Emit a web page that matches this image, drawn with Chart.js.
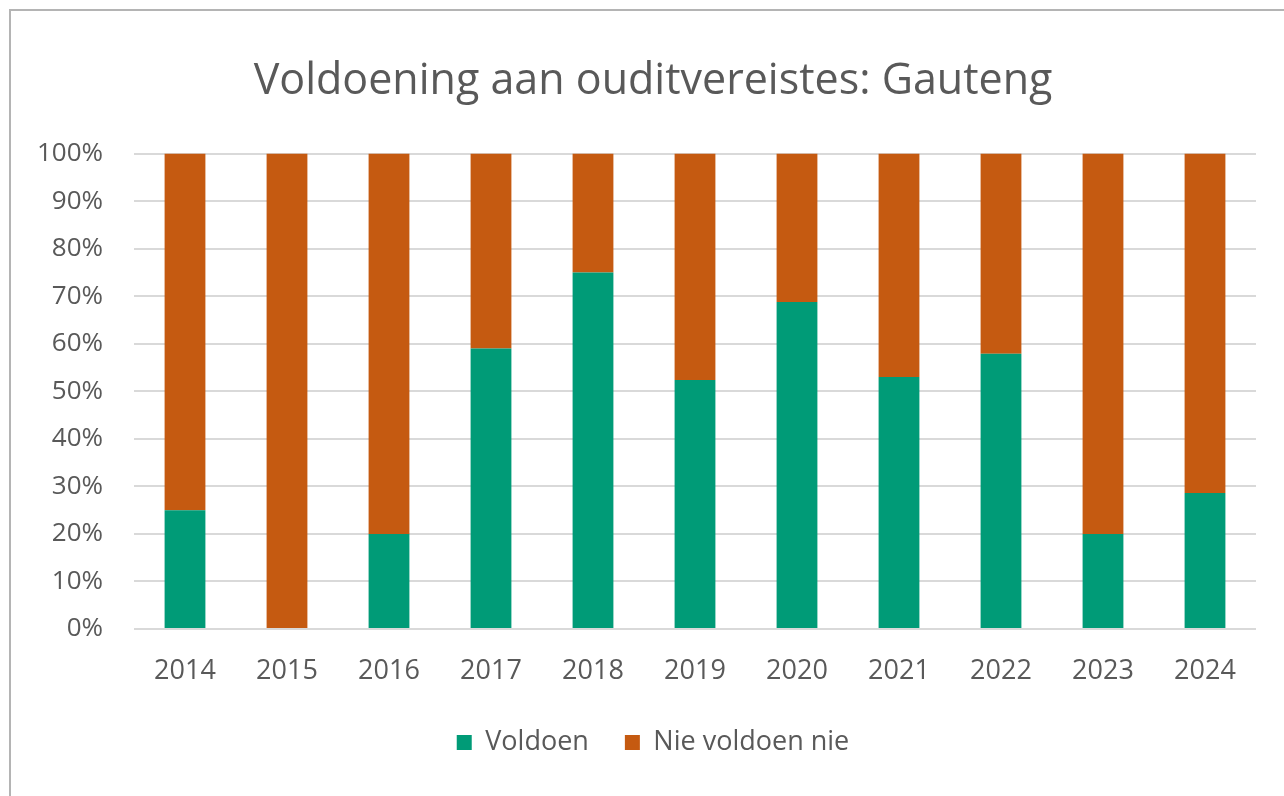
<!DOCTYPE html>
<html>
<head>
<meta charset="utf-8">
<script src="https://cdn.jsdelivr.net/npm/chart.js@4.4.1/dist/chart.umd.min.js"></script>
<style>
  html, body { margin: 0; padding: 0; background: #ffffff; }
  #wrap { position: relative; width: 1284px; height: 796px; overflow: hidden; }
  #frame { position: absolute; left: 9px; top: 9px; width: 1400px; height: 900px;
           border-left: 2px solid #b4b4b4; border-top: 2px solid #b4b4b4; box-sizing: border-box; }
  canvas { position: absolute; left: 0; top: 0; }
</style>
</head>
<body>
<div id="wrap">
  <div id="frame"></div>
  <canvas id="c" width="1284" height="796"></canvas>
</div>
<script>
const years = ["2014","2015","2016","2017","2018","2019","2020","2021","2022","2023","2024"];
const voldoen = [25, 0, 20, 59, 75, 52.4, 68.8, 53, 57.9, 20, 28.6];
const nieVoldoen = [75, 100, 80, 41, 25, 47.6, 31.2, 47, 42.1, 80, 71.4];
const yTicks = [0, 10, 20, 30, 40, 50, 60, 70, 80, 90, 100];

const FONT = "'Open Sans', 'Noto Sans', sans-serif";
const TXT = '#595959';

new Chart(document.getElementById('c'), {
  type: 'bar',
  data: {
    labels: years,
    datasets: [
      { label: 'Voldoen', data: voldoen, backgroundColor: '#009B77', borderWidth: 0 },
      { label: 'Nie voldoen nie', data: nieVoldoen, backgroundColor: '#C55A11', borderWidth: 0 }
    ]
  },
  options: {
    responsive: false,
    animation: false,
    devicePixelRatio: 1,
    layout: { padding: { left: 22, right: 0, top: 0, bottom: 30 } },
    datasets: { bar: { categoryPercentage: 1.0, barPercentage: 0.4 } },
    plugins: {
      title: {
        display: true,
        text: 'Voldoening aan ouditvereistes: Gauteng',
        color: TXT,
        font: { family: FONT, size: 43, weight: 'normal' },
        padding: { top: 56, bottom: 46 }
      },
      legend: {
        position: 'bottom',
        labels: {
          color: TXT,
          font: { family: FONT, size: 27 },
          boxWidth: 15, boxHeight: 15,
          padding: 36
        }
      },
      tooltip: { enabled: false }
    },
    scales: {
      x: {
        stacked: true,
        afterFit: (s) => { s.height = 64; },
        grid: { display: false, drawTicks: false },
        border: { display: false },
        ticks: { color: TXT, font: { family: FONT, size: 27 }, padding: 26 }
      },
      y: {
        stacked: true,
        min: 0, max: 100,
        afterBuildTicks: (s) => { s.ticks = yTicks.map(v => ({ value: v })); },
        afterFit: (s) => { s.width = 112; },
        grid: { color: '#d9d9d9', lineWidth: 2, drawTicks: false },
        border: { display: false },
        ticks: { color: TXT, font: { family: FONT, size: 26 }, padding: 31,
                 callback: (v) => v + '%' }
      },
      yRight: {
        position: 'right',
        display: true,
        min: 0, max: 100,
        afterFit: (s) => { s.width = 28; },
        grid: { display: false, drawTicks: false },
        border: { display: false },
        ticks: { display: false }
      }
    }
  }
});
</script>
</body>
</html>
